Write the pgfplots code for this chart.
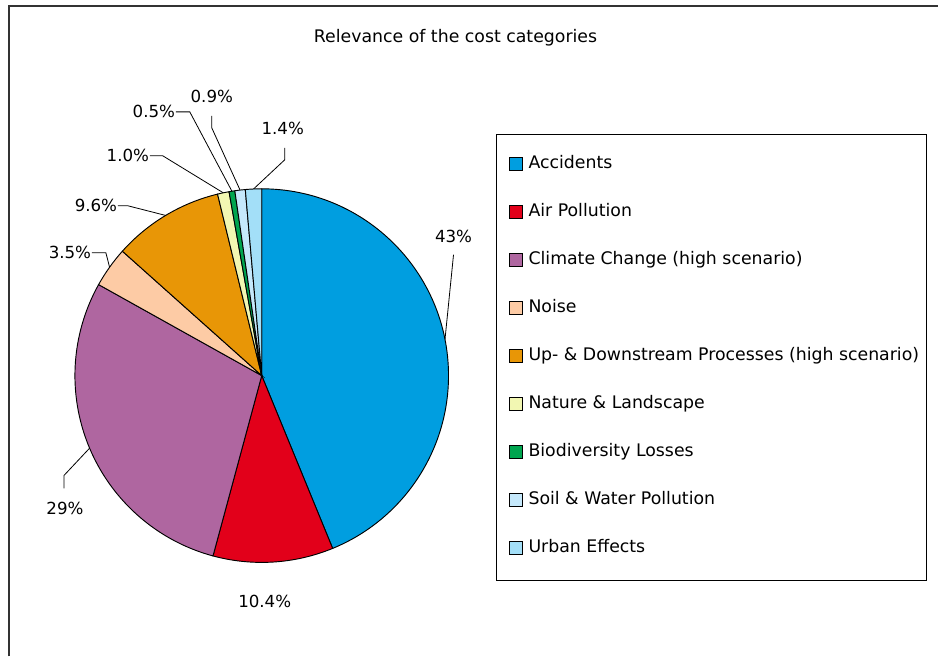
\documentclass[border=0pt]{standalone}
\usepackage{fontspec}
\setmainfont{DejaVu Sans}
\usepackage{pgfplots}
\usepackage{pgfplotstable}
\pgfplotsset{compat=1.18}

\definecolor{cAcc}{HTML}{009EE0}
\definecolor{cAir}{HTML}{E2001A}
\definecolor{cCli}{HTML}{AF66A0}
\definecolor{cNoi}{HTML}{FDCBA5}
\definecolor{cUp}{HTML}{E89606}
\definecolor{cNat}{HTML}{F2F7B2}
\definecolor{cBio}{HTML}{00A54F}
\definecolor{cSoi}{HTML}{C5E8FB}
\definecolor{cUrb}{HTML}{A3DFF8}

% share (%), fill, label, label centre, leader start and knee (pixel frame 939x657, y down)
\pgfplotstableread[col sep=comma]{
name,value,col,lab,lx,ly,ax,ay,bx,by,lead
Accidents,43.8,cAcc,43\%,454,237,454,255,454,255,1
Air Pollution,10.4,cAir,10.4\%,265,602,0,0,0,0,0
Climate Change (high scenario),28.9,cCli,29\%,65,509,64,489,64,476,1
Noise,3.5,cNoi,3.5\%,70,253,92,253,106,253,1
Up- \& Downstream Processes (high scenario),9.6,cUp,9.6\%,96,206,118,206,128,206,1
Nature \& Landscape,1.0,cNat,1.0\%,128,156,150,156,163,156,1
Biodiversity Losses,0.5,cBio,0.5\%,154,112,176,112,190,112,1
Soil \& Water Pollution,0.9,cSoi,0.9\%,212,97,212,116,212,128,1
Urban Effects,1.4,cUrb,1.4\%,283,129,285,148,285,160,1
}\piedata

\newcommand\pieR{140.25pt}% 187 px

\begin{document}
\begin{tikzpicture}[font=\fontsize{12.5}{15}\selectfont]
\begin{axis}[
    width=704.25pt, height=492.75pt, scale only axis,
    xmin=0, xmax=939, ymin=0, ymax=657, y dir=reverse,
    hide axis, clip=false,
    legend image code/.code={\draw[line width=0.6pt,#1] (0pt,-4.9pt) rectangle (9.75pt,4.9pt);},
    legend style={draw=none, fill=none, inner sep=0pt,
        at={(axis description cs:0.5421,0.7626)}, anchor=north west,
        row sep=24pt, font=\fontsize{13}{15}\selectfont,
        nodes={inner sep=0pt, text height=9.5pt, text depth=2.5pt},
        /tikz/every odd column/.style={column sep=4.5pt}},
    legend cell align=left,
]
\path (axis cs:0,0) rectangle (axis cs:939,657);
% frame
\draw[line width=1.5pt, black!80] (axis cs:9,657) -- (axis cs:9,6) -- (axis cs:939,6);
\node[font=\fontsize{13}{15}\selectfont] at (axis cs:456,38) {Relevance of the cost categories};
\draw[line width=0.75pt] (axis cs:497,135) rectangle (axis cs:927,581);

% wedges, clockwise from the top
\pgfmathsetmacro\acc{90}
\pgfplotsforeachungrouped \i in {0,...,8}{%
  \pgfplotstablegetelem{\i}{value}\of\piedata \let\wval\pgfplotsretval
  \pgfplotstablegetelem{\i}{col}\of\piedata \let\wcol\pgfplotsretval
  \pgfplotstablegetelem{\i}{name}\of\piedata \let\wname\pgfplotsretval
  \pgfmathsetmacro\aend{\acc-3.6*\wval}
  \edef\cmd{\noexpand\filldraw[fill=\wcol, draw=black, line width=0.7pt]
    (axis cs:262,376) -- ++(\acc:\pieR) arc[start angle=\acc, end angle=\aend, radius=\pieR] -- cycle;
    \noexpand\addlegendimage{draw=black, fill=\wcol}
    \noexpand\addlegendentry{\wname}}%
  \cmd
  \let\acc\aend
}

% labels and leader lines
\pgfmathsetmacro\acc{90}
\pgfplotsforeachungrouped \i in {0,...,8}{%
  \pgfplotstablegetelem{\i}{value}\of\piedata \let\wval\pgfplotsretval
  \pgfplotstablegetelem{\i}{lab}\of\piedata \let\wlab\pgfplotsretval
  \pgfplotstablegetelem{\i}{lx}\of\piedata \let\wlx\pgfplotsretval
  \pgfplotstablegetelem{\i}{ly}\of\piedata \let\wly\pgfplotsretval
  \pgfplotstablegetelem{\i}{ax}\of\piedata \let\wax\pgfplotsretval
  \pgfplotstablegetelem{\i}{ay}\of\piedata \let\way\pgfplotsretval
  \pgfplotstablegetelem{\i}{bx}\of\piedata \let\wbx\pgfplotsretval
  \pgfplotstablegetelem{\i}{by}\of\piedata \let\wby\pgfplotsretval
  \pgfplotstablegetelem{\i}{lead}\of\piedata \let\wlead\pgfplotsretval
  \pgfmathsetmacro\aend{\acc-3.6*\wval}
  \pgfmathsetmacro\amid{(\acc+\aend)/2}
  \edef\cmd{\noexpand\node at (axis cs:\wlx,\wly) {\wlab};}%
  \cmd
  \ifnum\wlead=1
    \edef\cmd{\noexpand\draw[line width=0.6pt] (axis cs:\wax,\way) -- (axis cs:\wbx,\wby)
      -- ([shift={(\amid:\pieR)}]axis cs:262,376);}%
    \cmd
  \fi
  \let\acc\aend
}
\end{axis}
\end{tikzpicture}
\end{document}
